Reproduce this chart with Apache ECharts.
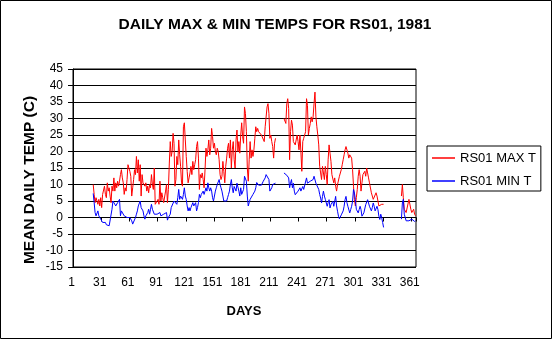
<!DOCTYPE html>
<html>
<head>
<meta charset="utf-8">
<script src="https://cdn.jsdelivr.net/npm/echarts@6/dist/echarts.min.js"></script>
<style>
html,body{margin:0;padding:0;background:#fff;}
#chart{width:554px;height:340px;}
</style>
</head>
<body>
<div id="chart"></div>
<script>
// ---- data ----
var firstDay = 22;
var tickDays = [1, 31, 61, 91, 121, 151, 181, 211, 241, 271, 301, 331, 361];
var seriesNames = ['RS01 MAX T', 'RS01 MIN T'];

// daily max temperature, days 22..365 (null = missing)
var maxTemp = [
  10, 7, 4.5, 6, 6.5, 4, 5.5, 3.5, 6, 3,
  7, 6.5, 9.5, 7, 6, 10.5, 8, 9, 6.5, 4.5,
  9.5, 8, 12, 8, 10.5, 9, 11, 9.5, 11, 13,
  14.5, 12, 10.5, 7, 9, 8, 11.5, 16, 16.5, 14,
  12.5, 6.5, 9, 11.5, 14.5, 13, 18.5, 13.5, 17.5, 11,
  16, 6.5, 13, 10.5, 11, 9.5, 10.5, 8, 9.5, 7.5,
  10, 9, 13, 10, 8.5, 15, 4, 4.5, 4, 5.5,
  4, 11, 5, 7.5, 6, 4.5, 5, 8, 10, 4.5,
  8.5, 16.5, 23, 18.5, 20, 25.5, 22.5, 9.5, 11.5, 18.5,
  16, 23.5, 19, 15.5, 10.5, 9.5, 27.5, 28.7, 23.5, 18.5,
  14, 10.5, 12, 13.5, 15.5, 13, 17, 14.5, 16, 17.5,
  21.5, 23, 18, 8.5, 13, 12, 13.5, 11.5, 9, 14.5,
  21, 18.5, 20.5, 23.5, 19, 21, 27, 24.5, 21, 22.5,
  20, 19, 21, 20, 17.5, 13, 11.5, 12.5, 17, 14,
  10.5, 15.5, 18, 21, 22.5, 18, 23.5, 15, 20.5, 23,
  17.5, 15, 23.5, 26.5, 20, 23, 19.5, 25, 28.7, 24.5,
  22.5, 33.5, 31.5, 26, 15, 11, 17.5, 23, 18, 20.5,
  18.5, 20.5, 24, 27.5, 26, 27, 26, 26.5, 25.5, 25,
  24.5, 24.5, 23, 27.5, 28, 33.5, 34.5, 31.5, 24, 25,
  23, 21.5, 18, 22.5, 24, null, null, null, null, null,
  null, null, null, 30, 29.8, 28.5, 34.5, 36, 33, 17.5,
  26, 29.5, 28, 23, 22.5, 22, 23.5, 25, 23, 20.5,
  25, 20, 14, 23, 24, 24, 26, 36, 34, 25,
  27, 28.5, 30.5, 29, 30.5, 34.5, 38, 30.5, 27.5, 25,
  22, 15.5, 13.5, 11.5, 15.5, 15, 11.5, 15.5, 13, 10,
  17.5, 22, 19.5, 17, 13, 13.5, 10.5, 12, 9.5, 8,
  10, 9.5, 12.5, 13, 14.5, 16, 17.5, 19, 20.5, 21.5,
  21, 19.5, 18, 19, 18.5, 18, 14.5, 9.5, 5.5, 3.5,
  6, 8.5, 12.5, 14.5, 12.5, 8, 10.5, 13, 12.5, 14,
  12.5, 15, 13.5, 12, 10.5, 10, 7.5, 7, 5.5, 6,
  5, 7.5, 6.5, 5, 3.5, 3, 4, 4, 4, 4,
  null, null, null, null, null, null, null, null, null, null,
  null, null, null, null, null, null, null, null,
  6.5, 10, 6, 2.5, 2, 1.5, 1, 1.5, 5.5, 5,
  2.5, 1.5, 2, 2.5, 1, 0.5
];

// daily min temperature, days 22..365 (null = missing)
var minTemp = [
  7.3, 4.5, 1.5, 0.5, 0.5, 2, 0.5, 0, -0.5, -1,
  -1.5, -1.5, -2, -1.5, -2.2, -2, -2.5, -2.5, -3, -2,
  2.5, 5, 4.5, 4.5, 3.5, 4, 4.5, 5, 5.5, 0.5,
  2, 1.5, 2, 0.5, 0, 0.5, 0, 0, 0.5, 0,
  -0.5, -1, -2, -2.5, -1.5, 0, 1, 2, 3.5, 4,
  5, 3, 3.5, 2, 0.5, -0.5, 0.5, 0, 1.5, 2.5,
  1, 2.5, 4, 2.5, 3, 1, 1, 0.5, 1, 1.5,
  0.5, 1.5, 0.5, 1, 0.5, 1, 1.5, 1, 1.5, -0.8,
  0, -0.3, 1, 3, 2.5, 3.5, 5, 4.5, 5.5, 4,
  6, 8.5, 5.5, 6.5, 6, 5.5, 7, 9, 6.5, 5.5,
  3.5, 2, 3, 2, 3, 3.5, 4.5, 3.5, 4, 4.5,
  2, 3, 4.5, 7, 6, 7, 6.5, 8, 7, 8,
  9, 8, 10.5, 9, 8, 9, 8, 6, 5, 4.5,
  8, 9, 10, 9.5, 11.5, 10, 9, 8, 6.5, 5,
  5, 5.5, 5, 6, 7, 8, 10, 11.5, 9, 7.5,
  9.4, 9, 8, 10.4, 10, 8, 6.5, 9, 7, 7,
  8.5, 12.5, 13, 11, 6.5, 3.5, 4.5, 5.5, 5, 5.5,
  7, 6.5, 8, 9, 10.6, 10, 9.8, 10.4, 9.5, 9.8,
  10.4, 11, 11.5, 12, 13, 13.5, 13, 11.5, 8, 7.4,
  9, 10, 10.4, 10.5, 10.4, null, null, null, null, null,
  null, null, null, 13.5, 13.7, 13, 12.8, 12.5, 12, 9,
  10.4, 11.5, 9, 10.4, 8, 6.9, 6.4, 7.4, 8, 8.3,
  9, 8, 8.5, 9.4, 8.5, 8, 8, 12, 10.4, 10,
  10.5, 11, 11.5, 11, 11.5, 12.5, 13, 10.4, 11, 10,
  8.5, 7, 5.9, 4.4, 6.4, 8, 6.5, 5.5, 4.9, 3.4,
  4.5, 5.4, 2.9, 3.9, 4.4, 4.9, 3.4, 4.9, 6.4, 3.5,
  1.9, 0.4, -0.4, 0, 0.8, 1.4, 2, 3.4, 5.4, 6.4,
  4.5, 3.4, 2.9, 1.4, 2.4, 3.4, 4.9, 8.5, 7.4, 5.4,
  2.5, 1.9, 1.4, 2.4, 3.4, 2.4, 0.4, -0.1, 1.4, 2,
  3.9, 4.4, 5.4, 4.4, 3.4, 3.9, 2, 3, 4.4, 3.4,
  2, 1.4, 3.4, 2.4, 0.4, -0.6, 1, 0, -1.5, -3,
  null, null, null, null, null, null, null, null, null, null,
  null, null, null, null, null, null, null, null,
  -0.5, 4.4, 5.5, 1, 0.5, -1, -1.5, -0.5, -1, -0.5,
  -1, -0.5, -1, -0.8, -1.2, -1
];

// ---- build category axis and full-year series ----
var days = [];
for (var d = 1; d <= 365; d++) days.push(String(d));
function fullYear(arr) {
  var out = [];
  for (var i = 1; i < firstDay; i++) out.push(null);
  return out.concat(arr);
}

var FONT = "'Liberation Sans', Arial, sans-serif";
var chart = echarts.init(document.getElementById('chart'), null, {renderer: 'canvas'});
chart.setOption({
  animation: false,
  backgroundColor: '#ffffff',
  grid: {
    left: 73, top: 69, width: 343, height: 198,
    show: true, borderColor: '#000', borderWidth: 1, backgroundColor: 'transparent'
  },
  xAxis: {
    type: 'category',
    data: days,
    boundaryGap: true,
    axisLine: {lineStyle: {color: '#000', width: 1}},
    axisTick: {
      show: true, length: 4, lineStyle: {color: '#000'},
      interval: function (idx, val) { return tickDays.indexOf(Number(val)) >= 0; }
    },
    axisLabel: {
      interval: function (idx, val) { return tickDays.indexOf(Number(val)) >= 0; },
      color: '#000', fontFamily: FONT, fontSize: 12, margin: 10,
      padding: [0, 4, 0, 0]
    },
    splitLine: {show: false}
  },
  yAxis: {
    type: 'value',
    min: -15, max: 45, interval: 5,
    axisLine: {show: true, lineStyle: {color: '#000', width: 1}},
    axisTick: {show: true, length: 5, lineStyle: {color: '#000'}},
    axisLabel: {color: '#000', fontFamily: FONT, fontSize: 12, margin: 10},
    splitLine: {show: true, lineStyle: {color: '#000', width: 1}}
  },
  legend: {
    orient: 'vertical',
    left: 427, top: 146,
    padding: [5, 5, 3, 5],
    icon: 'rect',
    itemWidth: 23, itemHeight: 1.5, itemGap: 9, itemTextGap: 5,
    borderColor: '#000', borderWidth: 1, backgroundColor: '#fff',
    textStyle: {color: '#000', fontFamily: FONT, fontSize: 13, lineHeight: 14},
    data: seriesNames
  },
  graphic: [
    {type: 'rect', shape: {x: 0.5, y: 0.5, width: 551, height: 338},
     style: {fill: 'none', stroke: '#000', lineWidth: 1}, silent: true, z: -1},
    {type: 'text', x: 275, y: 25,
     style: {text: 'DAILY MAX & MIN TEMPS FOR RS01, 1981', font: 'bold 15.5px ' + FONT,
             fill: '#000', textAlign: 'center', textVerticalAlign: 'middle'}},
    {type: 'text', x: 30, y: 180, rotation: Math.PI / 2,
     style: {text: 'MEAN DAILY TEMP (C)', font: 'bold 15.5px ' + FONT,
             fill: '#000', textAlign: 'center', textVerticalAlign: 'middle'}},
    {type: 'text', x: 244, y: 311,
     style: {text: 'DAYS', font: 'bold 13px ' + FONT,
             fill: '#000', textAlign: 'center', textVerticalAlign: 'middle'}}
  ],
  series: [
    {name: seriesNames[0], type: 'line', data: fullYear(maxTemp), symbol: 'none',
     connectNulls: false, lineStyle: {color: '#ff0000', width: 1}, itemStyle: {color: '#ff0000'}},
    {name: seriesNames[1], type: 'line', data: fullYear(minTemp), symbol: 'none',
     connectNulls: false, lineStyle: {color: '#0000ff', width: 1}, itemStyle: {color: '#0000ff'}}
  ]
});
</script>
</body>
</html>
